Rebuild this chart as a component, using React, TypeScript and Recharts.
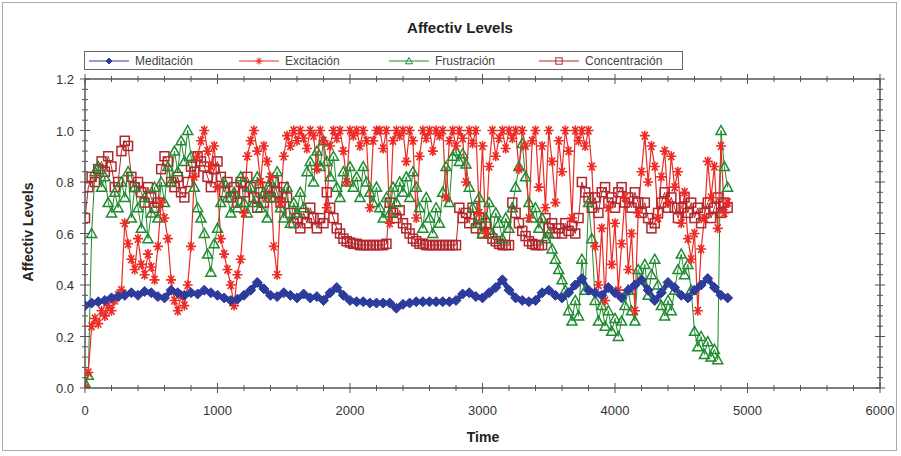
import { Legend, Line, LineChart, XAxis, YAxis } from "recharts";

// sampling interval of the recorded signals (time units)
const sampleStep = 25;
const meditationStep = 50;

const meditacion = [
  0.32, 0.33, 0.335, 0.34, 0.35, 0.355, 0.36, 0.37, 0.36, 0.375,
  0.37, 0.355, 0.35, 0.38, 0.37, 0.36, 0.37, 0.365, 0.38, 0.37,
  0.36, 0.35, 0.34, 0.345, 0.36, 0.38, 0.41, 0.385, 0.36, 0.355,
  0.37, 0.36, 0.35, 0.365, 0.35, 0.355, 0.34, 0.37, 0.39, 0.36,
  0.34, 0.335, 0.335, 0.33, 0.33, 0.33, 0.33, 0.31, 0.325, 0.33,
  0.335, 0.335, 0.335, 0.335, 0.335, 0.335, 0.34, 0.365, 0.37, 0.355,
  0.35, 0.37, 0.39, 0.42, 0.38, 0.35, 0.34, 0.335, 0.34, 0.37,
  0.38, 0.36, 0.35, 0.37, 0.4, 0.425, 0.38, 0.37, 0.36, 0.39,
  0.37, 0.35, 0.38, 0.4, 0.42, 0.38, 0.34, 0.37, 0.41, 0.39,
  0.36, 0.35, 0.38, 0.4, 0.425, 0.39, 0.36, 0.35,
];

const excitacion = [
  0.0, 0.06, 0.24, 0.27, 0.25, 0.3, 0.28, 0.32, 0.3,
  0.34, 0.36, 0.38, 0.64, 0.56, 0.5, 0.46, 0.58,
  0.48, 0.44, 0.52, 0.47, 0.42, 0.55, 0.72, 0.66,
  0.58, 0.42, 0.34, 0.3, 0.36, 0.32, 0.4, 0.55,
  0.82, 0.9, 0.96, 1.0, 0.92, 0.86, 0.94, 0.78,
  0.58, 0.52, 0.46, 0.4, 0.32, 0.44, 0.5, 0.68,
  0.9, 0.96, 1.0, 0.92, 0.8, 0.94, 0.88, 0.82,
  0.55, 0.44, 0.72, 0.9, 0.98, 0.94, 1.0, 0.96,
  1.0, 0.97, 0.93, 1.0, 0.98, 0.85, 1.0, 0.96,
  0.7, 0.94, 1.0, 0.97, 1.0, 0.92, 0.8, 1.0,
  0.98, 1.0, 0.94, 1.0, 0.96, 0.7, 0.96, 1.0,
  1.0, 0.93, 1.0, 0.64, 0.96, 1.0, 0.98, 1.0,
  0.88, 1.0, 0.96, 0.66, 0.9, 1.0, 0.97, 1.0,
  0.92, 1.0, 0.98, 1.0, 0.74, 0.96, 1.0, 0.94,
  1.0, 0.97, 0.8, 1.0, 0.95, 1.0, 0.68, 0.94,
  0.6, 0.86, 1.0, 0.9, 0.97, 1.0, 0.93, 1.0,
  0.97, 1.0, 0.85, 1.0, 0.94, 0.66, 0.96, 1.0,
  0.78, 0.94, 0.7, 1.0, 0.88, 0.72, 0.96, 0.84,
  1.0, 0.92, 0.66, 1.0, 0.96, 1.0, 0.94, 1.0,
  0.86, 0.55, 0.4, 0.62, 0.34, 0.7, 0.48, 0.64,
  0.38, 0.56, 0.74, 0.46, 0.6, 0.3, 0.68, 0.84,
  0.98, 0.8, 0.94, 0.86, 0.66, 0.82, 0.92, 0.72,
  0.9, 0.78, 0.84, 0.64, 0.76, 0.58, 0.5, 0.6,
  0.3, 0.54, 0.66, 0.88, 0.74, 0.86, 0.62, 0.94,
  0.68, 0.72,
];

const frustracion = [
  0.02, 0.05, 0.6, 0.84, 0.86, 0.78, 0.82, 0.72, 0.68,
  0.76, 0.7, 0.8, 0.74, 0.84, 0.66, 0.78, 0.7,
  0.62, 0.74, 0.58, 0.68, 0.78, 0.66, 0.8, 0.72,
  0.86, 0.8, 0.92, 0.84, 0.96, 0.88, 1.0, 0.9,
  0.78, 0.7, 0.66, 0.6, 0.52, 0.45, 0.56, 0.62,
  0.72, 0.8, 0.74, 0.68, 0.76, 0.7, 0.82, 0.72,
  0.68, 0.78, 0.72, 0.82, 0.7, 0.76, 0.66, 0.8,
  0.74, 0.84, 0.7, 0.66, 0.78, 0.64, 0.72, 0.68,
  0.76, 0.7, 0.84, 0.88, 0.8, 0.92, 0.86, 0.96,
  0.88, 0.82, 0.9, 0.78, 0.74, 0.84, 0.8, 0.86,
  0.78, 0.82, 0.74, 0.86, 0.8, 0.76, 0.72, 0.78,
  0.7, 0.66, 0.74, 0.68, 0.78, 0.72, 0.8, 0.76,
  0.82, 0.74, 0.84, 0.78, 0.7, 0.62, 0.74, 0.66,
  0.6, 0.7, 0.64, 0.76, 0.86, 0.72, 0.9, 0.92,
  0.88, 0.91, 0.87, 0.78, 0.7, 0.64, 0.74, 0.6,
  0.66, 0.72, 0.6, 0.68, 0.64, 0.58, 0.66, 0.62,
  0.7, 0.78, 0.86, 0.95, 0.82, 0.72, 0.66, 0.7,
  0.62, 0.66, 0.58, 0.6, 0.54, 0.5, 0.46, 0.42,
  0.38, 0.3, 0.26, 0.34, 0.28, 0.5, 0.38, 0.72,
  0.58, 0.34, 0.26, 0.32, 0.24, 0.3, 0.22, 0.27,
  0.2, 0.26, 0.32, 0.38, 0.3, 0.26, 0.46, 0.42,
  0.48, 0.36, 0.44, 0.5, 0.4, 0.32, 0.28, 0.34,
  0.3, 0.38, 0.46, 0.52, 0.44, 0.48, 0.38, 0.22,
  0.16, 0.2, 0.13, 0.18, 0.12, 0.15, 0.11, 1.0,
  0.86, 0.78,
];

const concentracion = [
  0.66, 0.78, 0.82, 0.8, 0.85, 0.88, 0.84, 0.9, 0.86,
  0.78, 0.8, 0.92, 0.96, 0.94, 0.82, 0.78, 0.8,
  0.76, 0.72, 0.78, 0.74, 0.7, 0.72, 0.85, 0.9,
  0.88, 0.8, 0.78, 0.82, 0.76, 0.74, 0.8, 0.86,
  0.84, 0.9, 0.88, 0.86, 0.82, 0.78, 0.85, 0.88,
  0.82, 0.76, 0.8, 0.74, 0.78, 0.72, 0.8, 0.76,
  0.82, 0.78, 0.74, 0.7, 0.76, 0.72, 0.78, 0.74,
  0.8, 0.76, 0.72, 0.78, 0.74, 0.68, 0.64, 0.66,
  0.62, 0.68, 0.64, 0.7, 0.66, 0.62, 0.66, 0.64,
  0.76, 0.7, 0.66, 0.62, 0.6, 0.58, 0.57, 0.565,
  0.56, 0.56, 0.555, 0.555, 0.555, 0.555, 0.555, 0.555,
  0.555, 0.555, 0.56, 0.72, 0.68, 0.66, 0.69, 0.64,
  0.62, 0.6, 0.58, 0.57, 0.56, 0.56, 0.555, 0.555,
  0.555, 0.555, 0.555, 0.555, 0.555, 0.555, 0.555, 0.555,
  0.7, 0.66, 0.68, 0.64, 0.7, 0.62, 0.66, 0.6,
  0.64, 0.6, 0.58, 0.57, 0.56, 0.555, 0.555, 0.555,
  0.72, 0.68, 0.64, 0.61, 0.59, 0.57, 0.56, 0.555,
  0.555, 0.555, 0.66, 0.62, 0.64, 0.6, 0.62, 0.6,
  0.64, 0.61, 0.63, 0.6, 0.66, 0.8, 0.76, 0.74,
  0.7, 0.74, 0.68, 0.76, 0.78, 0.72, 0.74, 0.7,
  0.76, 0.78, 0.72, 0.74, 0.7, 0.76, 0.72, 0.68,
  0.72, 0.66, 0.62, 0.64, 0.68, 0.72, 0.76, 0.7,
  0.74, 0.7, 0.66, 0.7, 0.74, 0.68, 0.72, 0.66,
  0.7, 0.64, 0.68, 0.72, 0.66, 0.7, 0.74, 0.68,
  0.72, 0.7,
];

const xMajorTicks = [0, 1000, 2000, 3000, 4000, 5000, 6000];
const yMajorTicks = [0, 0.2, 0.4, 0.6, 0.8, 1.0, 1.2];

const COLORS = {
  med: "#2d3c9c",
  exc: "#ee2a24",
  fru: "#1f8b2f",
  con: "#b3262b",
};
const AXIS = "#555";
const FONT = "'Liberation Sans', Arial, sans-serif";

// minor ticks between each pair of major ticks
const subdivide = (majors: number[], parts: number) => {
  const out: number[] = [];
  for (let i = 0; i < majors.length - 1; i++) {
    const step = (majors[i + 1] - majors[i]) / parts;
    for (let k = 0; k < parts; k++) out.push(Math.round((majors[i] + k * step) * 1000) / 1000);
  }
  out.push(majors[majors.length - 1]);
  return out;
};
const xTicks = subdivide(xMajorTicks, 5);
const yTicks = subdivide(yMajorTicks, 5);

const isMajor = (v: number, majors: number[]) => majors.some((m) => Math.abs(m - v) < 1e-6);

const toPoints = (values: number[], step: number) => values.map((v, i) => ({ t: i * step, v }));

const medData = toPoints(meditacion, meditationStep);
const excData = toPoints(excitacion, sampleStep);
const fruData = toPoints(frustracion, sampleStep);
const conData = toPoints(concentracion, sampleStep);

// ---- markers ----
const Diamond = ({ cx, cy, r = 5, color }: any) =>
  cx == null ? null : (
    <path
      d={`M${cx},${cy - r}L${cx + r},${cy}L${cx},${cy + r}L${cx - r},${cy}Z`}
      fill={color}
      stroke={color}
      strokeWidth={1}
    />
  );

const Star = ({ cx, cy, r = 5, color, w = 1.6 }: any) =>
  cx == null ? null : (
    <path
      d={`M${cx - r},${cy}L${cx + r},${cy}M${cx - r * 0.6},${cy - r * 0.8}L${cx + r * 0.6},${cy + r * 0.8}M${cx - r * 0.6},${cy + r * 0.8}L${cx + r * 0.6},${cy - r * 0.8}M${cx},${cy - r}L${cx},${cy + r}`}
      stroke={color}
      strokeWidth={w}
      fill="none"
    />
  );

const Triangle = ({ cx, cy, r = 5, color, w = 1.5 }: any) =>
  cx == null ? null : (
    <path
      d={`M${cx},${cy - r}L${cx + r},${cy + r * 0.8}L${cx - r},${cy + r * 0.8}Z`}
      stroke={color}
      strokeWidth={w}
      fill="none"
    />
  );

const Square = ({ cx, cy, r = 4.5, color, w = 1.5 }: any) =>
  cx == null ? null : (
    <rect x={cx - r} y={cy - r} width={2 * r} height={2 * r} stroke={color} strokeWidth={w} fill="none" />
  );

// ---- axis ticks ----
const BottomTick = ({ x, y, payload }: any) => {
  const major = isMajor(payload.value, xMajorTicks);
  const h = major ? 5 : 3;
  return (
    <g>
      <line x1={x} x2={x} y1={y - h} y2={y + h} stroke={AXIS} strokeWidth={1} />
      {major && (
        <text x={x} y={y + 27} textAnchor="middle" fontSize={13} fontFamily={FONT} fill="#333">
          {payload.value}
        </text>
      )}
    </g>
  );
};

const TopTick = ({ x, y, payload }: any) => {
  const h = isMajor(payload.value, xMajorTicks) ? 5 : 3;
  return <line x1={x} x2={x} y1={y - h} y2={y + h} stroke={AXIS} strokeWidth={1} />;
};

const LeftTick = ({ x, y, payload }: any) => {
  const major = isMajor(payload.value, yMajorTicks);
  const w = major ? 5 : 3;
  return (
    <g>
      <line x1={x - w} x2={x + w} y1={y} y2={y} stroke={AXIS} strokeWidth={1} />
      {major && (
        <text x={x - 11} y={y + 5} textAnchor="end" fontSize={13} fontFamily={FONT} fill="#333">
          {Number(payload.value).toFixed(1)}
        </text>
      )}
    </g>
  );
};

const RightTick = ({ x, y, payload }: any) => {
  const w = isMajor(payload.value, yMajorTicks) ? 5 : 3;
  return <line x1={x - w} x2={x + w} y1={y} y2={y} stroke={AXIS} strokeWidth={1} />;
};

// ---- legend ----
const legendItems = [
  { name: "Meditación", color: COLORS.med, Marker: Diamond, r: 3 },
  { name: "Excitación", color: COLORS.exc, Marker: Star, r: 3.5 },
  { name: "Frustración", color: COLORS.fru, Marker: Triangle, r: 3.5 },
  { name: "Concentración", color: COLORS.con, Marker: Square, r: 3.2 },
];

const LegendBox = () => (
  <svg width={600} height={20} style={{ display: "block" }}>
    <rect x={0.5} y={0.5} width={598} height={18} fill="#fff" stroke="#666" strokeWidth={1} />
    {legendItems.map((it, i) => {
      const x0 = 5 + i * 150;
      return (
        <g key={it.name}>
          <line x1={x0} x2={x0 + 40} y1={10} y2={10} stroke={it.color} strokeWidth={1} />
          <it.Marker cx={x0 + 20} cy={10} r={it.r} w={1} color={it.color} />
          <text x={x0 + 46} y={14} fontSize={12} fontFamily={FONT} fill="#444">
            {it.name}
          </text>
        </g>
      );
    })}
  </svg>
);

export default function App() {
  return (
    <div
      style={{
        position: "absolute",
        left: 0,
        top: 0,
        width: 901,
        height: 456,
        background: "#fff",
        fontFamily: FONT,
      }}
    >
      <div
        style={{
          position: "absolute",
          left: 2,
          top: 2,
          width: 895,
          height: 449,
          border: "1px solid #aaa",
          boxSizing: "border-box",
        }}
      />
      <div
        style={{
          position: "absolute",
          left: 360,
          top: 19,
          width: 200,
          textAlign: "center",
          fontSize: 15,
          fontWeight: "bold",
          color: "#222",
        }}
      >
        Affectiv Levels
      </div>
      <LineChart width={901} height={456} margin={{ top: 78, right: 20, bottom: 38, left: 0 }}>
        <XAxis
          dataKey="t"
          type="number"
          domain={[0, 6000]}
          ticks={xTicks}
          interval={0}
          tickSize={0}
          tickMargin={0}
          tickLine={false}
          tick={<BottomTick />}
          height={30}
          axisLine={{ stroke: AXIS, strokeWidth: 1.5 }}
          allowDataOverflow
          label={{
            content: () => (
              <text x={483} y={442} textAnchor="middle" fontSize={14} fontWeight="bold" fontFamily={FONT} fill="#222">
                Time
              </text>
            ),
          }}
        />
        <XAxis
          xAxisId="top"
          orientation="top"
          dataKey="t"
          type="number"
          domain={[0, 6000]}
          ticks={xTicks}
          interval={0}
          tickSize={0}
          tickMargin={0}
          tickLine={false}
          tick={<TopTick />}
          height={1}
          axisLine={{ stroke: AXIS, strokeWidth: 1.5 }}
          allowDataOverflow
        />
        <YAxis
          type="number"
          domain={[0, 1.2]}
          ticks={yTicks}
          interval={0}
          tickSize={0}
          tickMargin={0}
          tickLine={false}
          tick={<LeftTick />}
          width={85}
          axisLine={{ stroke: AXIS, strokeWidth: 1.5 }}
          allowDataOverflow
          label={{
            content: () => (
              <text
                x={33}
                y={232}
                transform="rotate(-90 33 232)"
                textAnchor="middle"
                fontSize={14}
                fontWeight="bold"
                fontFamily={FONT}
                fill="#222"
              >
                Affectiv Levels
              </text>
            ),
          }}
        />
        <YAxis
          yAxisId="right"
          orientation="right"
          type="number"
          domain={[0, 1.2]}
          ticks={yTicks}
          interval={0}
          tickSize={0}
          tickMargin={0}
          tickLine={false}
          tick={<RightTick />}
          width={1}
          axisLine={{ stroke: AXIS, strokeWidth: 1.5 }}
          allowDataOverflow
        />
        <Legend
          verticalAlign="middle"
          layout="horizontal"
          wrapperStyle={{ left: 84, top: 51, width: 600, height: 20 }}
          content={() => <LegendBox />}
        />
        <Line
          data={conData}
          dataKey="v"
          name="Concentración"
          stroke={COLORS.con}
          strokeWidth={1}
          dot={(p: any) => <Square key={p.index} cx={p.cx} cy={p.cy} color={COLORS.con} />}
          isAnimationActive={false}
          legendType="none"
        />
        <Line
          data={fruData}
          dataKey="v"
          name="Frustración"
          stroke={COLORS.fru}
          strokeWidth={1}
          dot={(p: any) => <Triangle key={p.index} cx={p.cx} cy={p.cy} color={COLORS.fru} />}
          isAnimationActive={false}
          legendType="none"
        />
        <Line
          data={excData}
          dataKey="v"
          name="Excitación"
          stroke={COLORS.exc}
          strokeWidth={1.2}
          dot={(p: any) => <Star key={p.index} cx={p.cx} cy={p.cy} color={COLORS.exc} />}
          isAnimationActive={false}
          legendType="none"
        />
        <Line
          data={medData}
          xAxisId="top"
          yAxisId="right"
          dataKey="v"
          name="Meditación"
          stroke={COLORS.med}
          strokeWidth={5}
          dot={(p: any) => <Diamond key={p.index} cx={p.cx} cy={p.cy} color={COLORS.med} />}
          isAnimationActive={false}
          legendType="none"
        />
      </LineChart>
    </div>
  );
}
